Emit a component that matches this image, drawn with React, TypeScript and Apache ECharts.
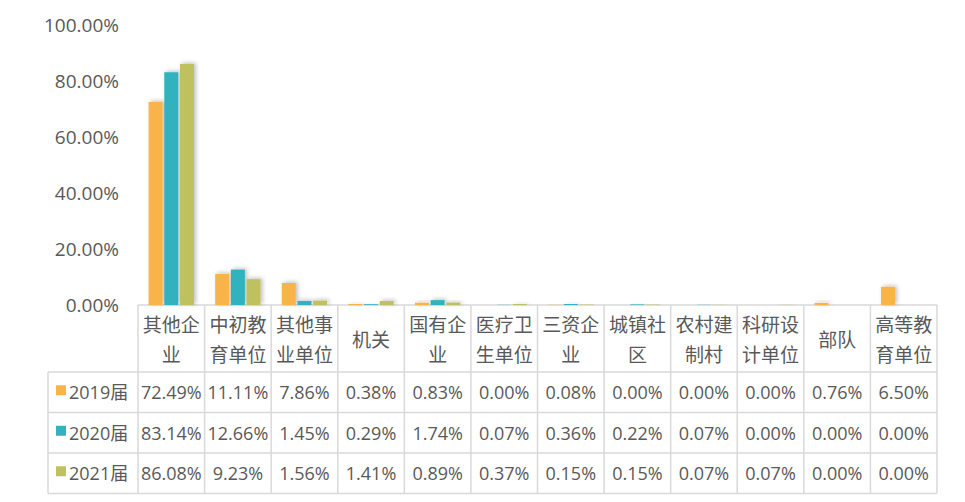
import { useEffect, useRef } from "react";
import * as echarts from "echarts";

const categories = [
  "其他企业",
  "中初教育单位",
  "其他事业单位",
  "机关",
  "国有企业",
  "医疗卫生单位",
  "三资企业",
  "城镇社区",
  "农村建制村",
  "科研设计单位",
  "部队",
  "高等教育单位",
];

const seriesNames = ["2019届", "2020届", "2021届"];
const colors = ["#F9B448", "#33B1BE", "#BFC05E"];

const values2019 = [72.49, 11.11, 7.86, 0.38, 0.83, 0.0, 0.08, 0.0, 0.0, 0.0, 0.76, 6.5];
const values2020 = [83.14, 12.66, 1.45, 0.29, 1.74, 0.07, 0.36, 0.22, 0.07, 0.0, 0.0, 0.0];
const values2021 = [86.08, 9.23, 1.56, 1.41, 0.89, 0.37, 0.15, 0.15, 0.07, 0.07, 0.0, 0.0];

const yTicks = [0, 20, 40, 60, 80, 100];

const FONT = "'Open Sans', 'Noto Sans CJK SC', sans-serif";
const TEXT = "#595959";
const BORDER = "#D9D9D9";

// header text wraps every 3 characters, like the source table
function wrap(s: string) {
  const out: string[] = [];
  for (let i = 0; i < s.length; i += 3) out.push(s.slice(i, i + 3));
  return out.join("\n");
}

export default function App() {
  const chartRef = useRef<HTMLDivElement>(null);

  useEffect(() => {
    document.body.style.margin = "0";
    if (!chartRef.current) return;
    const chart = echarts.init(chartRef.current, null, { renderer: "svg" });

    const W = 965;
    const H = 502;
    const left = 138;
    const right = 937;
    const top = 25;
    const axisY = 305;
    const headerH = 67;
    const rowH = 40.5;
    const legendLeft = 48;
    const colW = (right - left) / categories.length;

    const allValues = [values2019, values2020, values2021];
    const graphics: any[] = [];

    // horizontal lines
    const hLines = [
      { y: axisY, x1: left, x2: right },
      { y: axisY + headerH, x1: legendLeft, x2: right },
      { y: axisY + headerH + rowH, x1: legendLeft, x2: right },
      { y: axisY + headerH + rowH * 2, x1: legendLeft, x2: right },
      { y: axisY + headerH + rowH * 3, x1: legendLeft, x2: right },
    ];
    hLines.forEach((l) =>
      graphics.push({
        type: "line",
        shape: { x1: l.x1, y1: l.y, x2: l.x2, y2: l.y },
        style: { stroke: BORDER, lineWidth: 1.5 },
        silent: true,
      })
    );
    // vertical lines
    graphics.push({
      type: "line",
      shape: { x1: legendLeft, y1: axisY + headerH, x2: legendLeft, y2: axisY + headerH + rowH * 3 },
      style: { stroke: BORDER, lineWidth: 1.5 },
      silent: true,
    });
    for (let i = 0; i <= categories.length; i++) {
      const x = left + colW * i;
      graphics.push({
        type: "line",
        shape: { x1: x, y1: axisY, x2: x, y2: axisY + headerH + rowH * 3 },
        style: { stroke: BORDER, lineWidth: 1.5 },
        silent: true,
      });
    }

    // header
    categories.forEach((c, i) => {
      graphics.push({
        type: "text",
        x: left + colW * (i + 0.5),
        y: axisY + headerH / 2 + 1,
        style: {
          text: wrap(c),
          fill: TEXT,
          font: `19px ${FONT}`,
          align: "center",
          verticalAlign: "middle",
          lineHeight: 30,
        },
        silent: true,
      });
    });

    // rows
    allValues.forEach((vals, r) => {
      const cy = axisY + headerH + rowH * (r + 0.5);
      graphics.push({
        type: "rect",
        shape: { x: 56, y: cy - 7, width: 10, height: 10 },
        style: { fill: colors[r] },
        silent: true,
      });
      graphics.push({
        type: "text",
        x: 69,
        y: cy,
        style: {
          text: seriesNames[r],
          fill: TEXT,
          font: `18px ${FONT}`,
          align: "left",
          verticalAlign: "middle",
        },
        silent: true,
      });
      vals.forEach((v, i) => {
        graphics.push({
          type: "text",
          x: left + colW * (i + 0.5),
          y: cy,
          style: {
            text: v.toFixed(2) + "%",
            fill: TEXT,
            font: `18px ${FONT}`,
            align: "center",
            verticalAlign: "middle",
          },
          silent: true,
        });
      });
    });

    const option = {
      animation: false,
      backgroundColor: "#ffffff",
      grid: {
        left,
        right: W - right,
        top,
        bottom: H - axisY,
        containLabel: false,
      },
      xAxis: {
        type: "category",
        data: categories,
        axisLine: { show: false },
        axisTick: { show: false },
        axisLabel: { show: false },
      },
      yAxis: {
        type: "value",
        min: yTicks[0],
        max: yTicks[yTicks.length - 1],
        interval: 20,
        splitLine: { show: false },
        axisLine: { show: false },
        axisTick: { show: false },
        axisLabel: {
          formatter: (v: number) => v.toFixed(2) + "%",
          color: TEXT,
          fontSize: 19,
          fontFamily: FONT,
          margin: 19,
        },
      },
      series: allValues.map((vals, r) => ({
        name: seriesNames[r],
        type: "bar",
        data: vals,
        barWidth: 14,
        barGap: "12%",
        itemStyle: {
          color: colors[r],
          shadowColor: "rgba(0,0,0,0.25)",
          shadowBlur: 4,
          shadowOffsetX: 2,
          shadowOffsetY: -1,
        },
      })),
      graphic: graphics,
    };

    chart.setOption(option);
    return () => chart.dispose();
  }, []);

  return <div ref={chartRef} style={{ width: 965, height: 502 }} />;
}
